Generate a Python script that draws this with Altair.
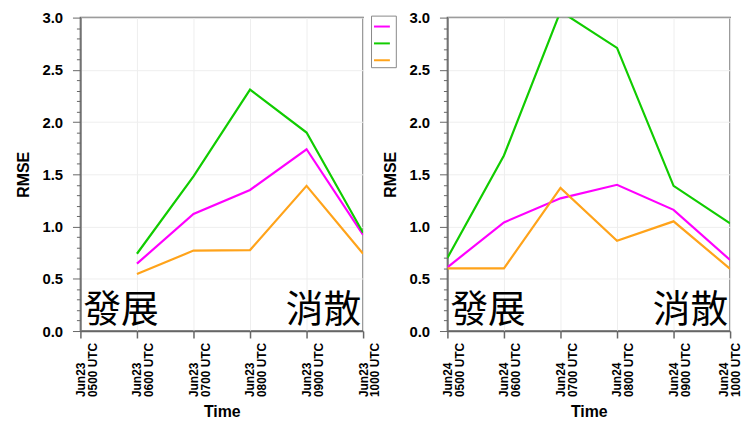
import altair as alt
import pandas as pd

times = ["0500 UTC", "0600 UTC", "0700 UTC", "0800 UTC", "0900 UTC", "1000 UTC"]
series = ["Series 1", "Series 2", "Series 3"]
colors = ["#ff00ff", "#11cc00", "#ffa31a"]
left_day = "Jun23"
right_day = "Jun24"
left_magenta = [None, 0.645, 1.12, 1.35, 1.74, 0.92]
left_green = [None, 0.74, 1.48, 2.31, 1.90, 0.94]
left_orange = [None, 0.545, 0.77, 0.775, 1.39, 0.74]
right_magenta = [0.61, 1.04, 1.27, 1.40, 1.16, 0.68]
right_green = [0.70, 1.68, 3.06, 2.71, 1.39, 1.03]
right_orange = [0.60, 0.60, 1.37, 0.865, 1.05, 0.595]
note_left = "發展"
note_right = "消散"
y_ticks = [round(i * 0.1, 1) for i in range(31)]

W, H = 285, 316
FONT = "Liberation Sans"
MAJOR = "abs(datum.value*2 - round(datum.value*2)) < 0.001"


def panel(day, vals, show_legend, last_label_left):
    cats = [f"{day} {t}" for t in times]
    rows = []
    for s, v in zip(series, vals):
        for c, y in zip(cats, v):
            if y is not None:
                rows.append({"time": c, "series": s, "rmse": y})
    df = pd.DataFrame(rows)

    if show_legend:
        legend = alt.Legend(
            orient="none", legendX=W + 8, legendY=-2, title=None,
            symbolType="stroke", symbolSize=256, symbolStrokeWidth=2,
            labelExpr="''", labelOffset=0, labelFontSize=10, rowPadding=3,
            padding=2, strokeColor="#888888", fillColor="white",
        )
    else:
        legend = None

    if last_label_left:
        baseline = {"condition": {"test": f"datum.value == '{cats[-1]}'", "value": "bottom"},
                    "value": "middle"}
    else:
        baseline = "middle"

    x = alt.X(
        "time:N",
        scale=alt.Scale(type="point", domain=cats, padding=0),
        axis=alt.Axis(
            title="Time", titleFont=FONT, titleFontSize=16, titleFontWeight="bold",
            titleColor="black", titlePadding=7,
            labelAngle=270, labelAlign="left", labelBaseline=baseline,
            labelExpr="[slice(datum.label,0,5), slice(datum.label,6)]",
            labelFont=FONT, labelFontSize=12, labelFontWeight="bold",
            labelLineHeight=12, labelColor="black", labelPadding=59,
            labelOverlap=False, tickSize=7, tickColor="#666666", tickWidth=1.5,
            domainColor="#666666", domainWidth=1.5,
            grid=True, gridColor="#eeeeee",
        ),
    )
    y = alt.Y(
        "rmse:Q",
        scale=alt.Scale(domain=[0, 3], nice=False, zero=True),
        axis=alt.Axis(
            title="RMSE", titleFont=FONT, titleFontSize=16, titleFontWeight="bold",
            titleColor="black", titlePadding=10,
            values=y_ticks,
            labelExpr=f"{MAJOR} ? format(datum.value, '.1f') : ''",
            labelFont=FONT, labelFontSize=15, labelFontWeight="bold",
            labelColor="black", labelPadding=10,
            tickSize={"condition": {"test": MAJOR, "value": 8}, "value": 4},
            tickColor="#666666", tickWidth=1,
            domainColor="#666666", domainWidth=1.5,
            grid=True, gridColor="#eeeeee",
            gridOpacity={"condition": {"test": MAJOR, "value": 1}, "value": 0},
        ),
    )
    lines = alt.Chart(df).mark_line(strokeWidth=2.2, clip=True).encode(
        x=x, y=y,
        color=alt.Color("series:N", scale=alt.Scale(domain=series, range=colors), legend=legend),
        detail="series:N",
    )
    t1 = alt.Chart(pd.DataFrame({"t": [note_left]})).mark_text(
        font="Noto Sans CJK TC", fontSize=38, align="left", baseline="bottom", color="black"
    ).encode(text="t:N", x=alt.value(3), y=alt.value(H - 1))
    t2 = alt.Chart(pd.DataFrame({"t": [note_right]})).mark_text(
        font="Noto Sans CJK TC", fontSize=38, align="right", baseline="bottom", color="black"
    ).encode(text="t:N", x=alt.value(W - 2), y=alt.value(H - 1))
    return alt.layer(lines, t1, t2).properties(width=W, height=H)


left = panel(left_day, [left_magenta, left_green, left_orange], True, False)
right = panel(right_day, [right_magenta, right_green, right_orange], False, True)

chart = alt.hconcat(left, right, spacing=0).properties(
    padding={"left": 7, "top": 0, "right": 0, "bottom": -1}
).configure_view(stroke="#666666", strokeWidth=1.5)

chart.save("out.html", embed_options={"renderer": "svg", "actions": False})
